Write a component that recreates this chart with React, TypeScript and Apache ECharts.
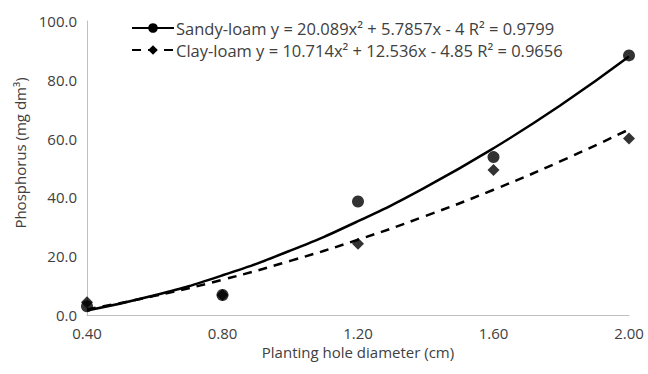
import React, { useEffect, useRef } from "react";
import * as echarts from "echarts";

const xTicks = [0.4, 0.8, 1.2, 1.6, 2.0];
const sandyPoints = [3.0, 6.8, 38.6, 53.7, 88.3];
const clayPoints = [4.3, 6.8, 24.2, 49.3, 60.0];

const trendX = [0.4, 0.6, 0.8, 1.0, 1.2, 1.4, 1.6, 1.8, 2.0];
const sandyTrend = [1.5, 6.7, 13.5, 21.9, 31.9, 43.5, 56.7, 71.5, 87.9];
const clayTrend = [1.9, 6.5, 12.0, 18.4, 25.6, 33.7, 42.6, 52.4, 63.1];

const sandyName = "Sandy-loam y = 20.089x² + 5.7857x - 4 R² = 0.9799";
const clayName = "Clay-loam y = 10.714x² + 12.536x - 4.85 R² = 0.9656";

const FONT = "'Open Sans', Lato, sans-serif";

export default function App() {
  const ref = useRef<HTMLDivElement>(null);
  useEffect(() => {
    if (!ref.current) return;
    const chart = echarts.init(ref.current, undefined, { renderer: "svg" });
    chart.setOption({
      animation: false,
      textStyle: { fontFamily: FONT },
      grid: { left: 87, right: 19, top: 21, bottom: 59 },
      legend: {
        orient: "vertical",
        left: 126,
        top: 14,
        itemGap: 4,
        itemWidth: 42,
        itemHeight: 12,
        data: [sandyName, clayName],
        textStyle: {
          fontFamily: FONT,
          fontSize: 16.5,
          lineHeight: 18,
          color: "#404040",
          padding: [0, 0, 0, -3],
        },
      },
      xAxis: {
        type: "value",
        min: 0.4,
        max: 2.0,
        interval: 0.4,
        name: "Planting hole diameter (cm)",
        nameLocation: "middle",
        nameGap: 28,
        nameTextStyle: { fontFamily: FONT, fontSize: 15, color: "#404040" },
        axisLine: { lineStyle: { color: "#bfbfbf" } },
        axisTick: { show: false },
        splitLine: { show: false },
        axisLabel: {
          fontFamily: FONT,
          fontSize: 15,
          color: "#404040",
          margin: 10,
          formatter: (v: number) => v.toFixed(2),
        },
      },
      yAxis: {
        type: "value",
        min: 0,
        max: 100,
        interval: 20,
        name: "Phosphorus (mg dm³)",
        nameLocation: "middle",
        nameGap: 60,
        nameTextStyle: { fontFamily: FONT, fontSize: 15, color: "#404040", padding: [0, 0, 0, 30] },
        axisLine: { show: true, lineStyle: { color: "#bfbfbf" } },
        axisTick: { show: false },
        splitLine: { show: false },
        axisLabel: {
          fontFamily: FONT,
          fontSize: 15,
          color: "#404040",
          margin: 10,
          formatter: (v: number) => v.toFixed(1),
        },
      },
      series: [
        {
          name: sandyName,
          type: "line",
          smooth: true,
          symbol: "circle",
          symbolSize: 10,
          showSymbol: false,
          itemStyle: { color: "#000" },
          lineStyle: { color: "#000", width: 2.5 },
          data: trendX.map((x, i) => [x, sandyTrend[i]]),
          z: 2,
        },
        {
          name: clayName,
          type: "line",
          smooth: true,
          symbol: "diamond",
          symbolSize: 11,
          showSymbol: false,
          itemStyle: { color: "#000" },
          lineStyle: { color: "#000", width: 2.5, type: [9, 7] },
          data: trendX.map((x, i) => [x, clayTrend[i]]),
          z: 2,
        },
        {
          name: "Clay-loam",
          type: "scatter",
          symbol: "diamond",
          symbolSize: 12,
          itemStyle: { color: "#000" },
          data: xTicks.map((x, i) => [x, clayPoints[i]]),
          z: 3,
        },
        {
          name: "Sandy-loam",
          type: "scatter",
          symbol: "circle",
          symbolSize: 12,
          itemStyle: { color: "#000" },
          data: xTicks.map((x, i) => [x, sandyPoints[i]]),
          z: 4,
        },
      ],
    });
    return () => chart.dispose();
  }, []);
  return <div ref={ref} style={{ width: 648, height: 374, position: "absolute", left: 0, top: 0 }} />;
}
